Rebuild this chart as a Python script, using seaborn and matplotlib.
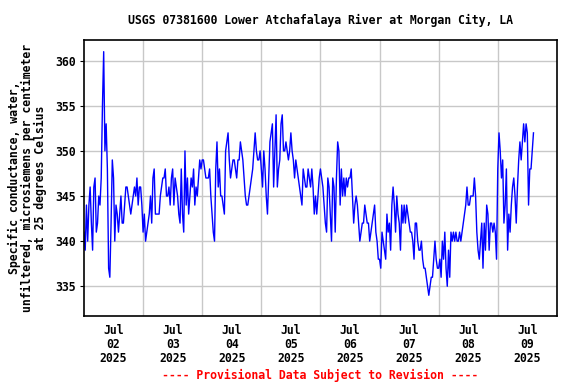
import matplotlib
matplotlib.use("agg")
from matplotlib import pyplot as plt
import matplotlib.dates as mdates
import numpy as np
import pandas as pd
import seaborn as sns

# specific conductance, 30-minute readings, one list per day
jul02 = [341, 339, 344, 340, 344, 346, 342, 339, 346, 347, 341, 342,
         345, 344, 347, 355, 361, 350, 353, 348, 337, 336, 342, 349,
         347, 340, 344, 343, 341, 343, 345, 342, 342, 344, 346, 346,
         345, 344, 343, 344, 345, 346, 345, 347, 344, 346, 346, 344]
jul03 = [341, 343, 340, 341, 342, 343, 345, 342, 347, 348, 343, 343,
         343, 343, 345, 346, 347, 347, 348, 345, 345, 346, 344, 347,
         348, 344, 347, 346, 345, 343, 342, 348, 343, 341, 350, 344,
         347, 343, 345, 347, 346, 348, 344, 346, 345, 347, 349, 348]
jul04 = [349, 349, 348, 347, 347, 347, 348, 345, 343, 341, 340, 348,
         351, 346, 348, 345, 345, 344, 343, 350, 351, 352, 349, 347,
         348, 349, 349, 348, 347, 349, 349, 351, 350, 349, 347, 345,
         344, 344, 345, 346, 347, 348, 350, 352, 350, 349, 349, 350]
jul05 = [348, 346, 350, 348, 345, 343, 347, 351, 352, 353, 346, 350,
         354, 346, 348, 349, 353, 354, 350, 350, 351, 350, 349, 350,
         352, 350, 349, 347, 349, 348, 347, 346, 345, 344, 348, 347,
         346, 346, 348, 347, 346, 348, 346, 343, 345, 343, 345, 347]
jul06 = [348, 347, 346, 344, 342, 341, 347, 346, 343, 340, 347, 346,
         341, 347, 351, 350, 344, 348, 345, 347, 345, 347, 346, 347,
         347, 348, 345, 342, 344, 345, 344, 342, 340, 341, 342, 342,
         344, 343, 342, 342, 340, 341, 342, 343, 344, 341, 340, 338]
jul07 = [338, 337, 341, 340, 339, 338, 343, 341, 342, 339, 344, 346,
         344, 341, 345, 343, 342, 339, 344, 342, 344, 342, 344, 343,
         342, 341, 341, 340, 338, 342, 342, 340, 339, 339, 340, 338,
         337, 337, 336, 335, 334, 335, 336, 336, 338, 340, 338, 337]
jul08 = [337, 338, 336, 340, 338, 341, 337, 335, 339, 336, 341, 340,
         341, 340, 341, 340, 340, 341, 340, 341, 342, 343, 344, 346,
         344, 344, 345, 345, 345, 347, 345, 341, 339, 338, 340, 342,
         337, 342, 339, 344, 343, 339, 342, 342, 341, 342, 341, 338]
jul09 = [348, 352, 350, 347, 349, 342, 344, 348, 339, 343, 341, 344,
         346, 347, 345, 342, 346, 349, 351, 349, 351, 353, 351, 353,
         352, 344, 348, 348, 350, 352]

values = jul02 + jul03 + jul04 + jul05 + jul06 + jul07 + jul08 + jul09
times = pd.date_range("2025-07-02 00:00", periods=len(values), freq="30min")
df = pd.DataFrame({"time": times, "value": values})

fig = plt.figure(figsize=(5.76, 3.84), dpi=100)
ax = fig.add_axes([0.1458, 0.177, 0.821, 0.719])

sns.lineplot(data=df, x="time", y="value", ax=ax, color="#0000ff",
             linewidth=1, estimator=None)

font = {"family": "DejaVu Sans Mono", "weight": "bold", "size": 8.3}

ax.set_xlim(pd.Timestamp("2025-07-02"), pd.Timestamp("2025-07-10"))
ax.set_ylim(331.7, 362.3)
ax.set_yticks([335, 340, 345, 350, 355, 360])
ax.set_yticklabels(["335", "340", "345", "350", "355", "360"], fontdict=font)

days = pd.date_range("2025-07-02", "2025-07-10", freq="D")
noons = days[:-1] + pd.Timedelta(hours=12)
ax.set_xticks(days[1:-1])
ax.set_xticklabels([])
ax.set_xticks(noons, minor=True)
ax.set_xticklabels([d.strftime("%b\n%d\n%Y") for d in noons], minor=True,
                   fontdict=font, linespacing=1.1)
ax.tick_params(axis="x", which="both", length=0, pad=6)
ax.tick_params(axis="y", length=3, pad=3)

ax.grid(True, which="major", color="#c8c8c8", linewidth=1)
ax.set_axisbelow(True)
for s in ax.spines.values():
    s.set_color("black")
    s.set_linewidth(1.2)

ax.set_xlabel("")
ax.set_ylabel("Specific conductance, water,\nunfiltered, microsiemens per centimeter\nat 25 degrees Celsius",
              fontdict=font, linespacing=1.0, labelpad=6)

fig.text(0.556, 0.948, "USGS 07381600 Lower Atchafalaya River at Morgan City, LA",
         ha="center", va="center", **font)
fig.text(0.556, 0.023, "---- Provisional Data Subject to Revision ----",
         ha="center", va="center", color="red", **font)

fig.savefig("out.png", dpi=100)
